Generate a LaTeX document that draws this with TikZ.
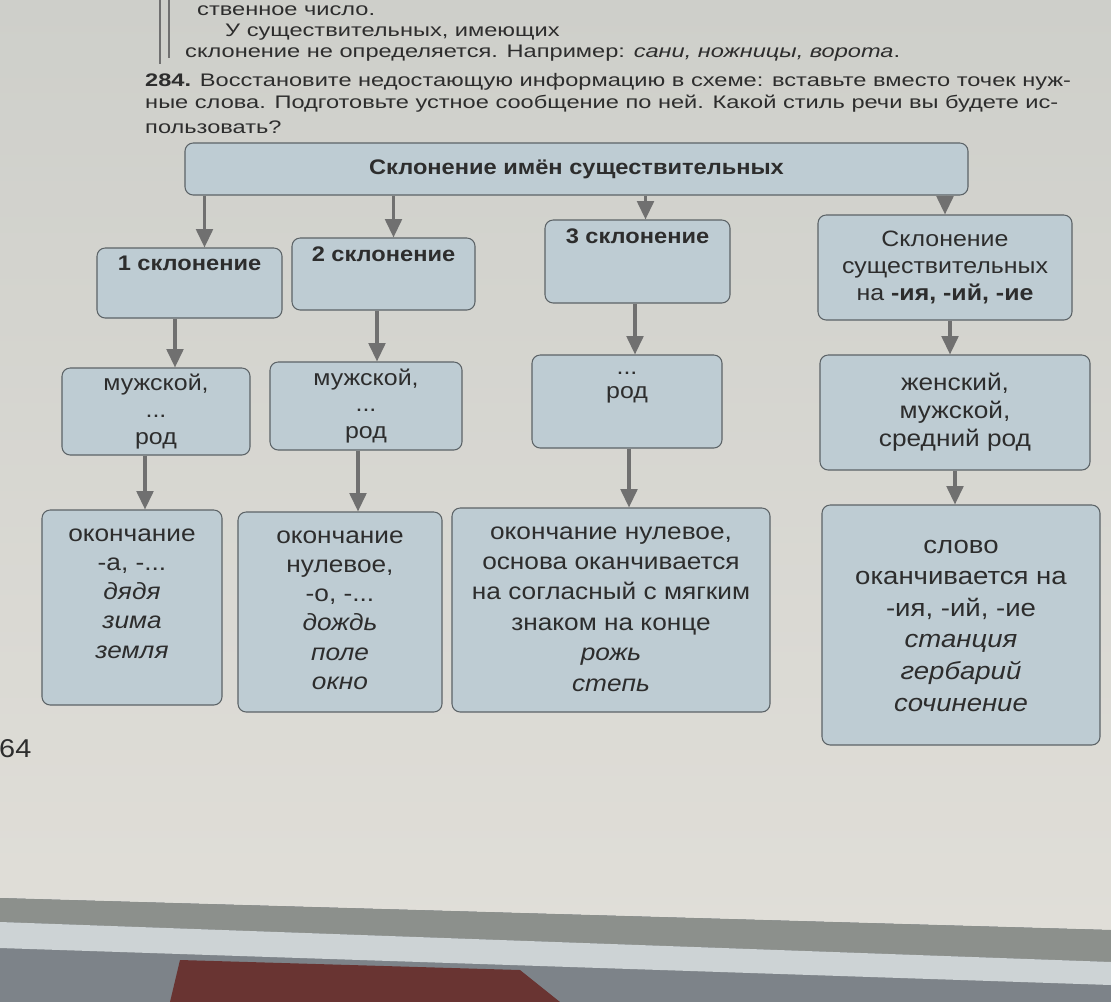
\documentclass[tikz,border=0pt]{standalone}
\usepackage{fontspec}
\setmainfont{Liberation Sans}[FakeStretch=1.12]
\newfontfamily\uchfont{Liberation Sans}[FakeStretch=1.3]
\usetikzlibrary{arrows.meta, positioning, calc}

\begin{document}
\begin{tikzpicture}[x=0.03cm, y=-0.03cm, >=Stealth,
    schbox/.style={draw=boxedge, fill=boxfill, line width=0.9pt, rounded corners=7pt, inner sep=0pt, text=ink, align=center},
    intext/.style={anchor=north, align=center, text=ink, inner sep=0pt},
    headtxt/.style={font=\fontsize{18}{22}\selectfont\bfseries},
    midtxt/.style={font=\fontsize{19}{23}\selectfont},
    lowtxt/.style={font=\fontsize{20}{25}\selectfont},
    conn/.style={draw=arrowgray, line width=2.6pt, -{Triangle[width=0.5cm, length=0.55cm]}},
    pagetext/.style={anchor=base west, text=ink, inner sep=0pt, font=\uchfont\fontsize{15.5}{17}\selectfont}
]

% Цвета
\definecolor{pagelight}{RGB}{224, 222, 216}
\definecolor{pagedark}{RGB}{206, 207, 202}
\definecolor{boxfill}{RGB}{190, 204, 211}
\definecolor{boxedge}{RGB}{92, 99, 103}
\definecolor{ink}{RGB}{45, 45, 45}
\definecolor{arrowgray}{RGB}{112, 112, 112}
\definecolor{bookedge}{RGB}{140, 144, 140}
\definecolor{coverstrip}{RGB}{205, 211, 213}
\definecolor{fabric}{RGB}{125, 131, 137}
\definecolor{fabricred}{RGB}{105, 52, 50}

\clip (0,0) rectangle (1111,1002);

% ============ фон: страница и край книги ============
\fill[fabric] (0,0) rectangle (1111,1002);
\fill[fabricred] (180,960) -- (520,970) -- (560,1002) -- (170,1002) -- cycle;
\shade[top color=pagedark, bottom color=pagelight] (0,0) -- (1111,0) -- (1111,930) -- (0,898) -- cycle;
\fill[bookedge] (0,898) -- (1111,930) -- (1111,962) -- (0,922) -- cycle;
\fill[coverstrip] (0,922) -- (1111,962) -- (1111,985) -- (0,948) -- cycle;

% ============ текст учебника над схемой ============
\draw[arrowgray, line width=1.2pt] (160,0) -- (160,64);
\draw[arrowgray, line width=1.2pt] (169,0) -- (169,58);
\node[pagetext] (t0) at (197,15) {ственное число.};
\node[pagetext] (t1) at (225,36) {У существительных, имеющих};
\node[pagetext] (t2) at (185,57) {склонение не определяется. Например: \textit{сани, ножницы, ворота}.};
\node[pagetext] (ex1) at (145,86) {\textbf{284.} Восстановите недостающую информацию в схеме: вставьте вместо точек нуж-};
\node[pagetext] (ex2) at (145,108) {ные слова. Подготовьте устное сообщение по ней. Какой стиль речи вы будете ис-};
\node[pagetext] (ex3) at (145,133) {пользовать?};

% ============ заголовок ============
\node[schbox, headtxt, minimum width=23.49cm, minimum height=1.56cm] (title) at (576.5,169)
    {Склонение имён существительных};

% ============ склонения ============
\node[schbox, minimum width=5.55cm, minimum height=2.1cm,
    label={[intext, headtxt, yshift=-7pt]north:1 склонение}] (d1) at (189.5,283) {};
\node[schbox, minimum width=5.49cm, minimum height=2.16cm,
    label={[intext, headtxt, yshift=-8pt]north:2 склонение}] (d2) at (383.5,274) {};
\node[schbox, minimum width=5.55cm, minimum height=2.49cm,
    label={[intext, headtxt, yshift=-8pt]north:3 склонение}] (d3) at (637.5,261.5) {};
\node[schbox, font=\fontsize{19}{23}\selectfont, minimum width=7.62cm, minimum height=3.15cm] (d4) at (945,267.5)
    {Склонение\\ существительных\\ на \textbf{-ия, -ий, -ие}};

% ============ род ============
\node[schbox, midtxt, minimum width=5.64cm, minimum height=2.61cm] (r1) at (156,411.5)
    {мужской,\\ ...\\ род};
\node[schbox, midtxt, minimum width=5.76cm, minimum height=2.64cm] (r2) at (366,406)
    {мужской,\\ ...\\ род};
\node[schbox, minimum width=5.7cm, minimum height=2.79cm,
    label={[intext, font=\fontsize{19}{21}\selectfont, yshift=-2pt]north:{\strut...\\ род}}] (r3) at (627,401.5) {};
\node[schbox, font=\fontsize{20}{24}\selectfont, minimum width=8.1cm, minimum height=3.45cm] (r4) at (955,412.5)
    {женский,\\ мужской,\\ средний род};

% ============ окончания и примеры ============
\node[schbox, minimum width=5.4cm, minimum height=5.85cm,
    label={[intext, lowtxt, yshift=-16pt]north:{окончание\\ -а, -...\\ \textit{дядя}\\ \textit{зима}\\ \textit{земля}}}] (e1) at (132,607.5) {};
\node[schbox, minimum width=6.12cm, minimum height=6.0cm,
    label={[intext, lowtxt, yshift=-16pt]north:{окончание\\ нулевое,\\ -о, -...\\ \textit{дождь}\\ \textit{поле}\\ \textit{окно}}}] (e2) at (340,612) {};
\node[schbox, minimum width=9.54cm, minimum height=6.12cm,
    label={[intext, font=\fontsize{20}{26}\selectfont, yshift=-16pt]north:{окончание нулевое,\\ основа оканчивается\\ на согласный с мягким\\ знаком на конце\\ \textit{рожь}\\ \textit{степь}}}] (e3) at (611,610) {};
\node[schbox, minimum width=8.34cm, minimum height=7.2cm,
    label={[intext, font=\fontsize{21}{27}\selectfont, yshift=-30pt]north:{слово\\ оканчивается на\\ -ия, -ий, -ие\\ \textit{станция}\\ \textit{гербарий}\\ \textit{сочинение}}}] (e4) at (961,625) {};

% Стрелки
\foreach \up/\dn/\dx in {title/d1/15, title/d2/10, title/d3/8, title/d4/0,
                          d1/r1/19, d2/r2/11, d3/r3/8, d4/r4/-5,
                          r1/e1/13, r2/e2/18, r3/e3/18, r4/e4/-6}
    \draw[conn] ([xshift=\dx*0.03cm]\dn.north |- \up.south) -- ([xshift=\dx*0.03cm]\dn.north);

% номер страницы
\node[anchor=base west, font=\fontsize{22}{24}\selectfont, text=ink, inner sep=0pt] (pnum) at (-1,757) {64};

\end{tikzpicture}
\end{document}
